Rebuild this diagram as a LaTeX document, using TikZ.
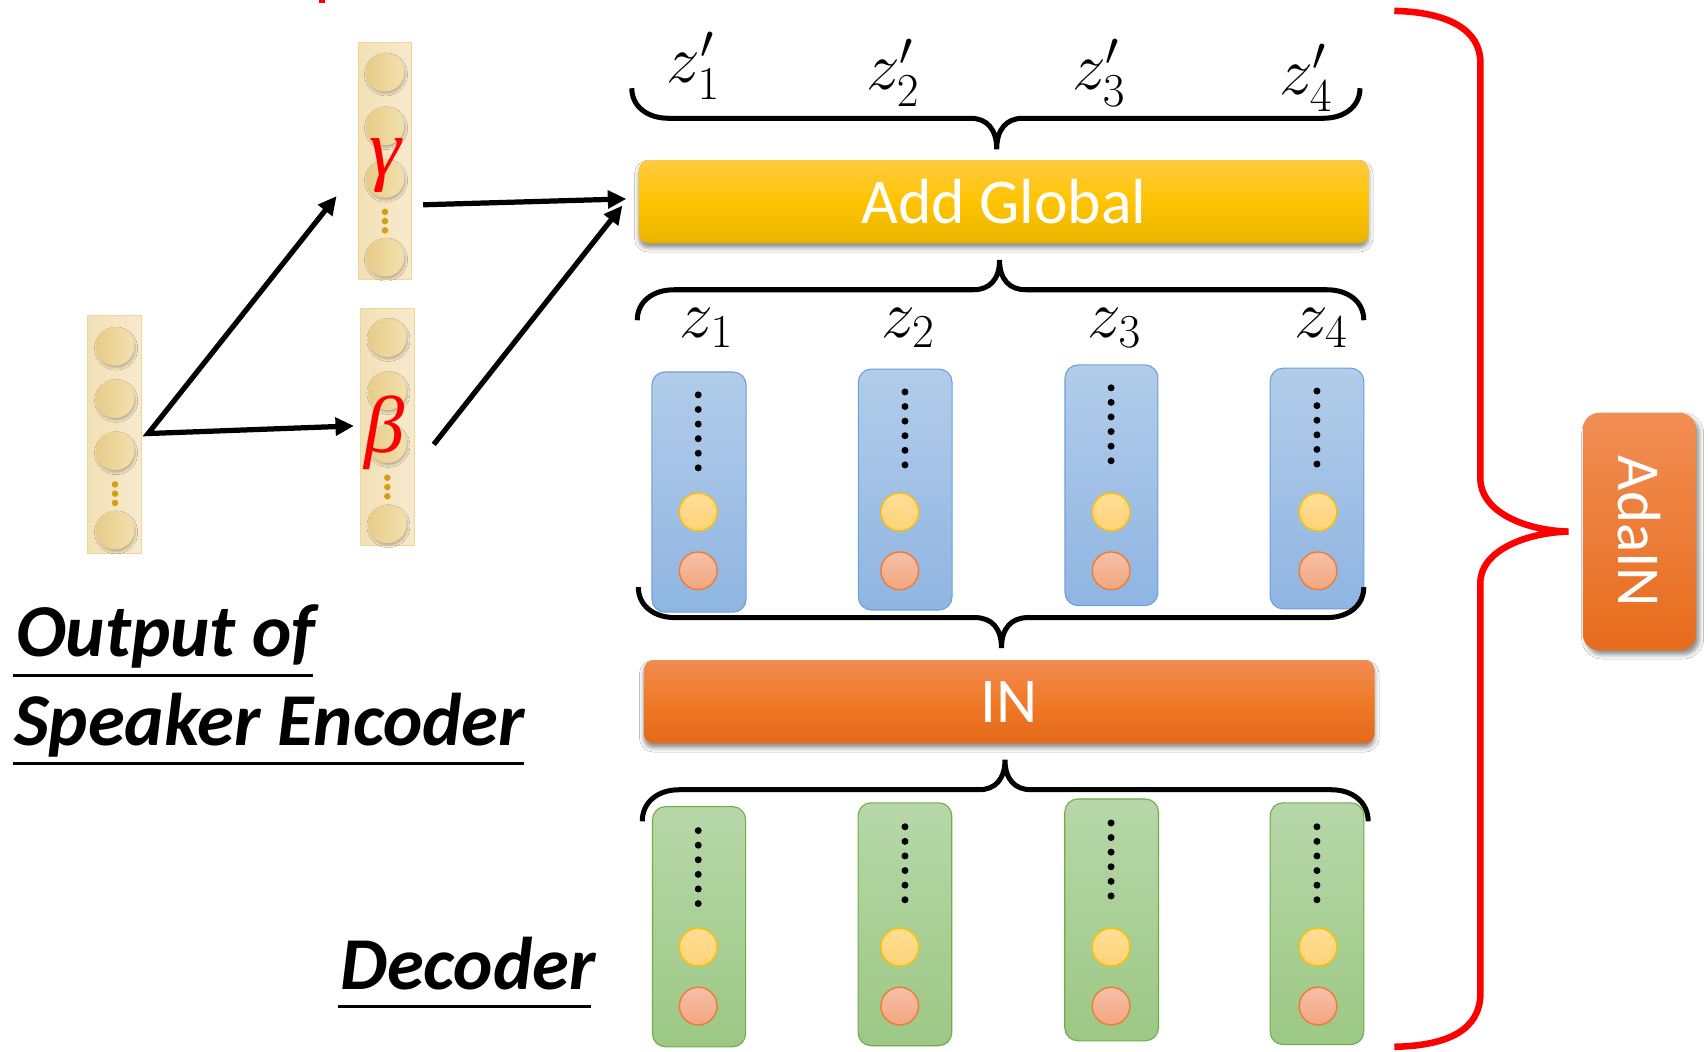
\RequirePackage{fix-cm}
\documentclass[tikz,border=0pt]{standalone}
\usepackage[no-math]{fontspec}
\setmainfont{Carlito}
\newfontfamily\greekfont{Liberation Serif}
\usetikzlibrary{arrows.meta,shadows.blur}

% palette
\definecolor{colL}{RGB}{242,224,182}
\definecolor{colR}{RGB}{247,234,205}
\definecolor{coledge}{RGB}{242,214,150}
\definecolor{cellL}{RGB}{231,204,136}
\definecolor{cellR}{RGB}{243,224,174}
\definecolor{golddot}{RGB}{212,158,22}
\definecolor{blueT}{RGB}{178,204,234}
\definecolor{blueB}{RGB}{143,181,226}
\definecolor{blueE}{RGB}{108,160,214}
\definecolor{greenT}{RGB}{183,215,168}
\definecolor{greenB}{RGB}{156,200,133}
\definecolor{greenE}{RGB}{112,173,71}
\definecolor{ycT}{RGB}{255,222,150}
\definecolor{ycB}{RGB}{255,211,120}
\definecolor{ycE}{RGB}{255,192,0}
\definecolor{ocT}{RGB}{245,192,168}
\definecolor{ocB}{RGB}{244,166,128}
\definecolor{ocE}{RGB}{237,125,49}
\definecolor{agT}{RGB}{255,202,64}
\definecolor{agM}{RGB}{255,196,0}
\definecolor{agB}{RGB}{232,180,0}
\definecolor{inT}{RGB}{241,140,82}
\definecolor{inM}{RGB}{240,122,40}
\definecolor{inB}{RGB}{228,104,26}
\definecolor{adL}{RGB}{231,108,28}
\definecolor{adR}{RGB}{241,142,84}

% horizontal curly brace: x1, x2, y of the ends, y of the bar, x of the tip, y of the tip
\newcommand\hbrace[6]{%
  \draw[bracestyle] (#1,#3)
    .. controls (#1,{#3+0.6*(#4-#3)}) and ({#1+14},#4) .. ({#1+34},#4)
    -- ({#5-24},#4)
    .. controls ({#5-9},#4) and (#5,{#4+0.35*(#6-#4)}) .. (#5,#6)
    .. controls (#5,{#4+0.35*(#6-#4)}) and ({#5+9},#4) .. ({#5+24},#4)
    -- ({#2-34},#4)
    .. controls ({#2-14},#4) and (#2,{#3+0.6*(#4-#3)}) .. (#2,#3);}

\begin{document}
\begin{tikzpicture}[x=1pt,y=-1pt,
  featcol/.style={rectangle, draw=coledge, line width=0.8pt, left color=colL, right color=colR, inner sep=0},
  fcell/.style={circle, minimum size=35.5pt, inner sep=0, left color=cellL, right color=cellR,
                blur shadow={shadow xshift=1pt, shadow yshift=-2pt, shadow blur radius=2pt, shadow opacity=25}},
  golddot/.style={fill=golddot},
  bluecol/.style={rectangle, rounded corners=12pt, draw=blueE, line width=1pt, top color=blueT, bottom color=blueB, inner sep=0},
  greencol/.style={rectangle, rounded corners=12pt, draw=greenE, line width=1pt, top color=greenT, bottom color=greenB, inner sep=0},
  ycell/.style={circle, minimum size=34.6pt, inner sep=0, draw=ycE, line width=1.3pt, top color=ycT, bottom color=ycB},
  ocell/.style={circle, minimum size=34.6pt, inner sep=0, draw=ocE, line width=1.3pt, top color=ocT, bottom color=ocB},
  bar/.style={rectangle, rounded corners=9pt, inner sep=0, text=white, font=\fontsize{58.5}{60}\selectfont,
              blur shadow={shadow xshift=0pt, shadow yshift=-4pt, shadow blur radius=4pt, shadow opacity=45}},
  arr/.style={line width=4.8pt, line join=miter, {Triangle[length=17pt,width=16pt]}-{Triangle[length=17pt,width=16pt]}},
  arrone/.style={line width=4.8pt, -{Triangle[length=17pt,width=16pt]}},
  bracestyle/.style={line width=4.6pt},
  greek/.style={inner sep=0, text=red, font=\fontsize{74}{80}\selectfont\greekfont\itshape},
  mathlbl/.style={anchor=base west, inner sep=0, font=\fontsize{62}{70}\selectfont},
  lbl/.style={anchor=base west, inner sep=0, font=\fontsize{68.5}{80}\selectfont\bfseries\itshape},
  uline/.style={line width=2.5pt}
]
\useasboundingbox (0,0) rectangle (1568,965);
\fill[white] (0,0) rectangle (1568,965);

% small red stub at the upper edge
\fill[red] (293,0) rectangle (298,2.5);

% ---- speaker embedding and its gamma / beta projections ----
\node[featcol, minimum width=49.4pt, minimum height=218pt] (inp) at (105.3,399) {};
\foreach \k/\y in {1/318,2/366,3/414,4/486.7} \node[fcell] (inp\k) at (105.6,\y) {};
\foreach \y in {444.7,453.2,461.7} \fill[golddot] (105.6,\y) circle (3pt);

\node[featcol, minimum width=49.4pt, minimum height=217.7pt] (gam) at (353.3,147.9) {};
\foreach \k/\y in {1/66.3,2/115.6,3/163.9,4/236.3} \node[fcell] (gam\k) at (353.4,\y) {};
\foreach \y in {194.5,203,211.5} \fill[golddot] (353.4,\y) circle (3pt);

\node[featcol, minimum width=50.2pt, minimum height=217.7pt] (bet) at (355.6,392) {};
\foreach \k/\y in {1/310,2/358.7,3/407.3,4/481} \node[fcell] (bet\k) at (355.6,\y) {};
\foreach \y in {438.6,447.1,455.6} \fill[golddot] (355.6,\y) circle (3pt);

\node[greek] (gl) at (354,152) {γ};
\node[greek] (bl) at (353,397) {β};

% ---- connectors ----
\coordinate (fork) at (136,398);
\coordinate (gin) at (309,180);
\coordinate (bin) at (325,391);
\coordinate (gout) at (388.5,188);
\coordinate (bout) at (398.2,408);
\coordinate (agin1) at (575,182.6);
\coordinate (agin2) at (571.4,188.7);
\draw[arr] (gin) -- (fork) -- (bin);
\draw[arrone] (gout) -- (agin1);
\draw[arrone] (bout) -- (agin2);

% ---- labels on the left ----
\node[lbl] (outl) at (14.5,603) {Output of};
\node[lbl] (spk) at (12.7,684.6) {Speaker Encoder};
\node[lbl] (dec) at (312,908) {Decoder};
\draw[uline] (12,620) -- (287,620);
\draw[uline] (12,700.6) -- (481,700.6);
\draw[uline] (310,924) -- (543,924);

% ---- outputs z' ----
\node[mathlbl] (zp1) at (612,76) {$z'_1$};
\node[mathlbl] (zp2) at (795,82.6) {$z'_2$};
\node[mathlbl] (zp3) at (984,82.6) {$z'_3$};
\node[mathlbl] (zp4) at (1174,87) {$z'_4$};
\hbrace{580}{1248.5}{81}{108.6}{915}{137}

% ---- Add Global ----
\node[bar, minimum width=670pt, minimum height=76.4pt, top color=agT, bottom color=agB, middle color=agM]
  (addg) at (921.5,185.2) {Add Global};
\hbrace{585}{1252}{294}{266}{917.6}{238.7}

% ---- normalised features z ----
\node[mathlbl] (z1) at (624,309.6) {$z_1$};
\node[mathlbl] (z2) at (809,309.6) {$z_2$};
\node[mathlbl] (z3) at (998.5,309.6) {$z_3$};
\node[mathlbl] (z4) at (1188,309.6) {$z_4$};

\foreach \k/\cx/\cy/\w/\h/\px/\dx in {1/641.75/451.75/86.5/220.5/641/641,
    2/831/449.4/86/221.2/826/830.8, 3/1020.35/445.5/85.3/221/1020/1020, 4/1209/448.5/86/221/1210/1209}{
  \node[bluecol, minimum width=\w pt, minimum height=\h pt] (blue\k) at (\cx,\cy) {};
  \pgfmathsetmacro\dtop{\cy-\h/2+21}
  \foreach \j in {0,...,5} \fill (\dx,{\dtop+13.4*\j}) circle (3.2pt);
  \node[ycell] (bluey\k) at (\px,470) {};
  \node[ocell] (blueo\k) at (\px,524) {};
}
\hbrace{586}{1252}{539}{567}{919.4}{595}

% ---- IN ----
\node[bar, minimum width=671pt, minimum height=76.4pt, top color=inT, bottom color=inB, middle color=inM]
  (innorm) at (926.5,644.2) {IN};
\hbrace{589.6}{1256}{754}{725}{922.6}{697.5}

% ---- decoder features ----
\foreach \k/\cx/\cy/\w/\h/\px/\dx in {1/641.75/850.75/85.5/220.5/641/641,
    2/830.75/848.5/86/223/826/830.8, 3/1020.5/844.5/86/222/1020/1020, 4/1209/848/86/222/1210/1209}{
  \node[greencol, minimum width=\w pt, minimum height=\h pt] (green\k) at (\cx,\cy) {};
  \pgfmathsetmacro\dtop{\cy-\h/2+22}
  \foreach \j in {0,...,5} \fill (\dx,{\dtop+13.4*\j}) circle (3.2pt);
  \node[ycell] (greeny\k) at (\px,869.5) {};
  \node[ocell] (greeno\k) at (\px,923.6) {};
}

% ---- AdaIN bracket ----
\draw[red, line width=6pt] (1280,10)
  .. controls (1330,11) and (1359,28) .. (1359,57)
  -- (1359,439)
  .. controls (1359,470) and (1400,487) .. (1440,488)
  .. controls (1400,489) and (1359,506) .. (1359,535)
  -- (1359,912)
  .. controls (1359,945) and (1330,960) .. (1280,961);

\node[rectangle, rounded corners=15pt, inner sep=0, rotate=-90, minimum width=218pt, minimum height=104pt,
      top color=adR, bottom color=adL, text=white, font=\fontsize{56}{60}\selectfont,
      blur shadow={shadow xshift=3pt, shadow yshift=-4pt, shadow blur radius=4pt, shadow opacity=45}]
  (adain) at (1505,488) {AdaIN};
\end{tikzpicture}
\end{document}
